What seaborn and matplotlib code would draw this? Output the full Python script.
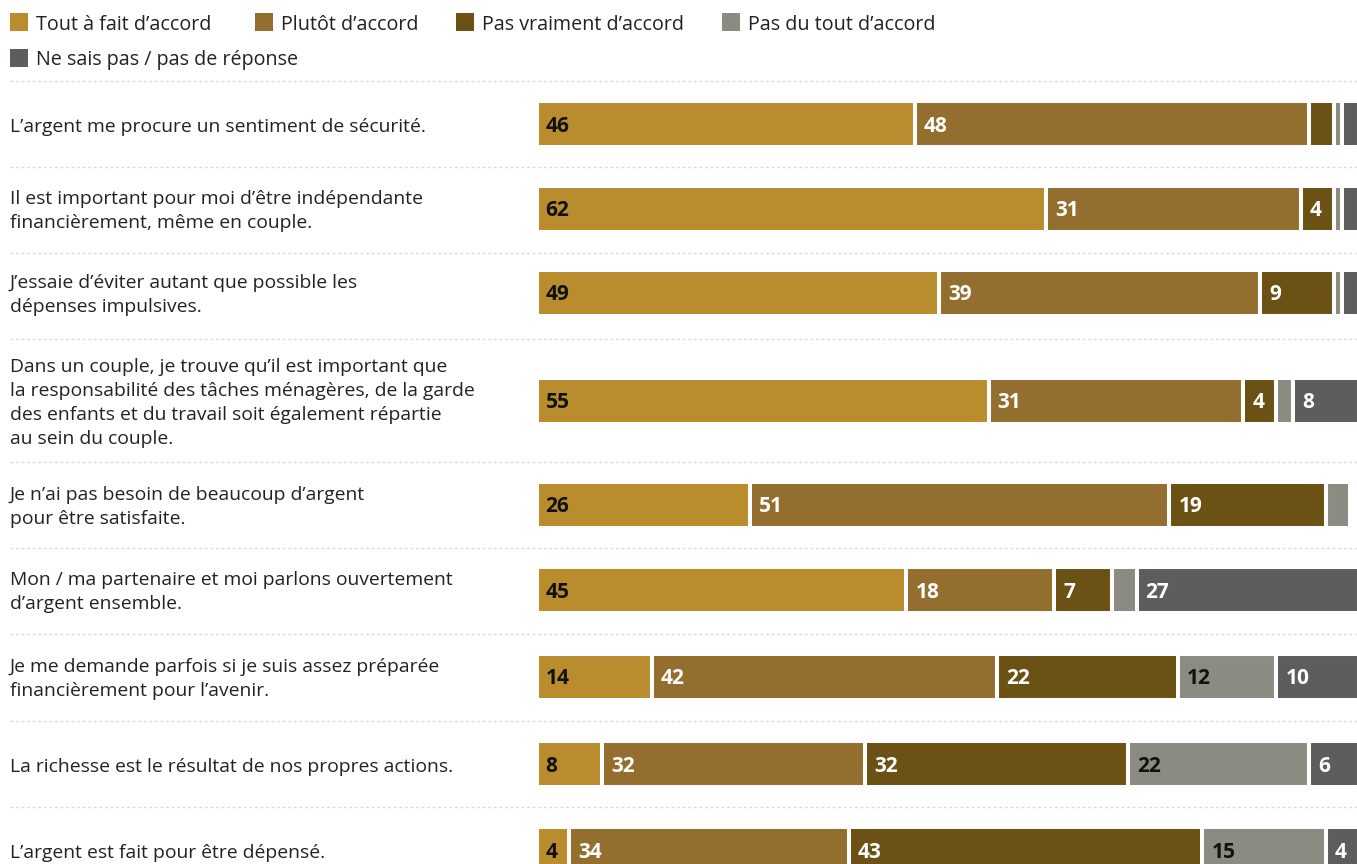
import matplotlib
matplotlib.use("Agg")
import matplotlib.pyplot as plt
import matplotlib.transforms as mtransforms
from matplotlib.patches import Rectangle
import seaborn as sns

# Survey statements (one row each, top to bottom)
statements = [
    "L’argent me procure un sentiment de sécurité.",
    "Il est important pour moi d’être indépendante\nfinancièrement, même en couple.",
    "J’essaie d’éviter autant que possible les\ndépenses impulsives.",
    "Dans un couple, je trouve qu’il est important que\nla responsabilité des tâches ménagères, de la garde\ndes enfants et du travail soit également répartie\nau sein du couple.",
    "Je n’ai pas besoin de beaucoup d’argent\npour être satisfaite.",
    "Mon / ma partenaire et moi parlons ouvertement\nd’argent ensemble.",
    "Je me demande parfois si je suis assez préparée\nfinancièrement pour l’avenir.",
    "La richesse est le résultat de nos propres actions.",
    "L’argent est fait pour être dépensé.",
]

# Answer categories
answers = [
    "Tout à fait d’accord",
    "Plutôt d’accord",
    "Pas vraiment d’accord",
    "Pas du tout d’accord",
    "Ne sais pas / pas de réponse",
]

# Share of respondents (%) per answer, one value per statement
tout_a_fait = [46, 62, 49, 55, 26, 45, 14, 8, 4]
plutot = [48, 31, 39, 31, 51, 18, 42, 32, 34]
pas_vraiment = [3, 4, 9, 4, 19, 7, 22, 32, 43]
pas_du_tout = [1, 1, 1, 2, 3, 3, 12, 22, 15]
ne_sais_pas = [2, 2, 2, 8, 0, 27, 10, 6, 4]

series = [tout_a_fait, plutot, pas_vraiment, pas_du_tout, ne_sais_pas]

palette = sns.color_palette(["#B98D2E", "#946E2E", "#6B5113", "#8C8B82", "#5C5E5C"])
label_colors = ["#111111", "white", "white", "#111111", "white"]

sns.set_theme(style="white")
plt.rcParams["font.family"] = ["Open Sans", "DejaVu Sans"]

W, H = 1357, 864
fig = plt.figure(figsize=(W / 100, H / 100), dpi=100)
ax = fig.add_axes([536.5 / W, 0, 822 / W, 1])
ax.set_xlim(0, 100)
ax.set_ylim(H, 0)
ax.axis("off")

# Row layout (vertical centres of the bars, and separator rows)
row_y = [124, 209, 293, 401, 505, 590, 677, 764, 850]
sep_y = [81, 167, 253, 339, 462, 548, 634, 721, 807]
bar_h = 46

fx = mtransforms.blended_transform_factory(fig.transFigure, ax.transData)

for y in sep_y:
    ax.plot([10 / W, 1.0], [y, y], transform=fx, color="#DADADA",
            lw=1.0, ls=(0, (2, 2)), clip_on=False, zorder=0)

# Stacked horizontal bars
lefts = [0.0] * len(statements)
for vals, color, tcol in zip(series, palette, label_colors):
    ax.barh(row_y, vals, left=lefts, height=bar_h, color=color,
            edgecolor="white", linewidth=2.9, zorder=2)
    for y, v, l in zip(row_y, vals, lefts):
        if v >= 4:
            ax.text(l + 1.1, y + 2, f"{v}", ha="left", va="center",
                    fontsize=15, fontweight="bold", color=tcol, zorder=3)
    lefts = [l + v for l, v in zip(lefts, vals)]

# Statement labels on the left
for y, s in zip(row_y, statements):
    dy = 2.0 if "\n" in s else 3.5
    ax.text(10 / W, y + dy, s, transform=fx, ha="left", va="center",
            fontsize=13.9, color="#222222", linespacing=1.45, clip_on=False)

# Legend, laid out in two lines
legend_pos = [(10, 22), (255, 22), (456, 22), (722, 22), (10, 58)]
for (lx, ly), name, color in zip(legend_pos, answers, palette):
    ax.add_patch(Rectangle((lx / W, ly - 9), 18 / W, 18, transform=fx,
                           facecolor=color, edgecolor="none", clip_on=False))
    ax.text((lx + 26) / W, ly + 2.5, name, transform=fx, ha="left", va="center",
            fontsize=14.2, color="#222222", clip_on=False)

fig.savefig("out.png", dpi=100)
